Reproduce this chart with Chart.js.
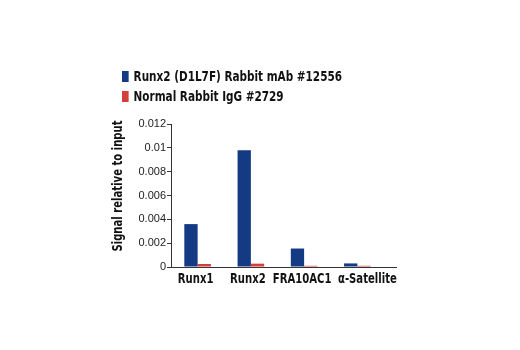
<!DOCTYPE html>
<html>
<head>
<meta charset="utf-8">
<script src="https://cdn.jsdelivr.net/npm/chart.js@4"></script>
<style>
  body { margin: 0; background: #fff; }
  #wrap { position: relative; width: 520px; height: 350px; }
  #legend { position: absolute; left: 122px; top: 66px; font-family: "DejaVu Sans Condensed", sans-serif; font-weight: bold; font-size: 14px; color: #111; transform: scaleX(0.83); transform-origin: 0 0; }
  #legend div { height: 20px; line-height: 20px; white-space: nowrap; }
  #legend span { display: inline-block; width: 8px; height: 11px; margin-right: 6px; vertical-align: -1px; }
</style>
</head>
<body>
<div id="wrap">
  <canvas id="chart1" width="520" height="350"></canvas>
  <div id="legend"></div>
</div>
<script>
var categories = ["Runx1", "Runx2", "FRA10AC1", "\u03b1-Satellite"];
var seriesNames = ["Runx2 (D1L7F) Rabbit mAb #12556", "Normal Rabbit IgG #2729"];
var runx2Values = [0.0036, 0.0098, 0.00155, 0.0003];
var iggValues = [0.00025, 0.00028, 0.0001, 0.0001];
var yTicks = [0, 0.002, 0.004, 0.006, 0.008, 0.01, 0.012];
var yTitle = "Signal relative to input";
var colors = ["#143a84", "#d2403c"];

var legend = document.getElementById("legend");
for (var i = 0; i < seriesNames.length; i++) {
    var row = document.createElement("div");
    row.innerHTML = '<span style="background:' + colors[i] + '"></span>' + seriesNames[i];
    legend.appendChild(row);
}

var boldFont = 'bold 14px "DejaVu Sans Condensed", sans-serif';
// label nudges to match the original layout
var labelShift = [-2, -3, -2, 10];

var axisText = {
    id: 'axisText',
    afterDraw: function (chart) {
        var ctx = chart.ctx;
        var area = chart.chartArea;
        var xScale = chart.scales.x;
        ctx.save();
        // x axis runs a bit past the last group
        ctx.strokeStyle = '#333';
        ctx.lineWidth = 1;
        ctx.beginPath();
        ctx.moveTo(area.right, area.bottom + 0.5);
        ctx.lineTo(area.right + 13, area.bottom + 0.5);
        ctx.stroke();

        ctx.fillStyle = '#111';
        ctx.font = boldFont;
        ctx.textAlign = 'center';
        ctx.textBaseline = 'middle';
        for (var i = 0; i < categories.length; i++) {
            ctx.save();
            ctx.translate(xScale.getPixelForTick(i) + labelShift[i], area.bottom + 12);
            ctx.scale(0.8, 1);
            ctx.fillText(categories[i], 0, 0);
            ctx.restore();
        }

        ctx.save();
        ctx.translate(118, 186);
        ctx.rotate(-Math.PI / 2);
        ctx.scale(0.8, 1);
        ctx.fillText(yTitle, 0, 0);
        ctx.restore();
        ctx.restore();
    }
};

var ctx = document.getElementById('chart1').getContext('2d');
new Chart(ctx, {
    type: 'bar',
    plugins: [axisText],
    data: {
        labels: categories,
        datasets: [{
            label: seriesNames[0],
            data: runx2Values,
            backgroundColor: colors[0],
            categoryPercentage: 0.5,
            barPercentage: 1
        }, {
            label: seriesNames[1],
            data: iggValues,
            backgroundColor: colors[1],
            categoryPercentage: 0.5,
            barPercentage: 1
        }]
    },
    options: {
        responsive: false,
        animation: false,
        layout: { padding: { left: 110, top: 124, right: 136, bottom: 58 } },
        plugins: { legend: { display: false }, tooltip: { enabled: false } },
        scales: {
            x: {
                grid: { display: false },
                border: { display: true, color: '#333' },
                ticks: { display: false },
                afterFit: function (scale) { scale.height = 25; }
            },
            y: {
                min: 0,
                max: 0.012,
                afterBuildTicks: function (scale) {
                    scale.ticks = yTicks.map(function (v) { return { value: v }; });
                },
                grid: { drawOnChartArea: false, tickLength: 4, color: '#333' },
                border: { display: true, color: '#333' },
                ticks: {
                    color: '#222',
                    padding: 1,
                    font: { family: '"Liberation Sans", Arial, sans-serif', size: 11 },
                    callback: function (v) { return String(+v.toFixed(3)); }
                },
                afterFit: function (scale) { scale.width = 61; }
            }
        }
    }
});
</script>
</body>
</html>
